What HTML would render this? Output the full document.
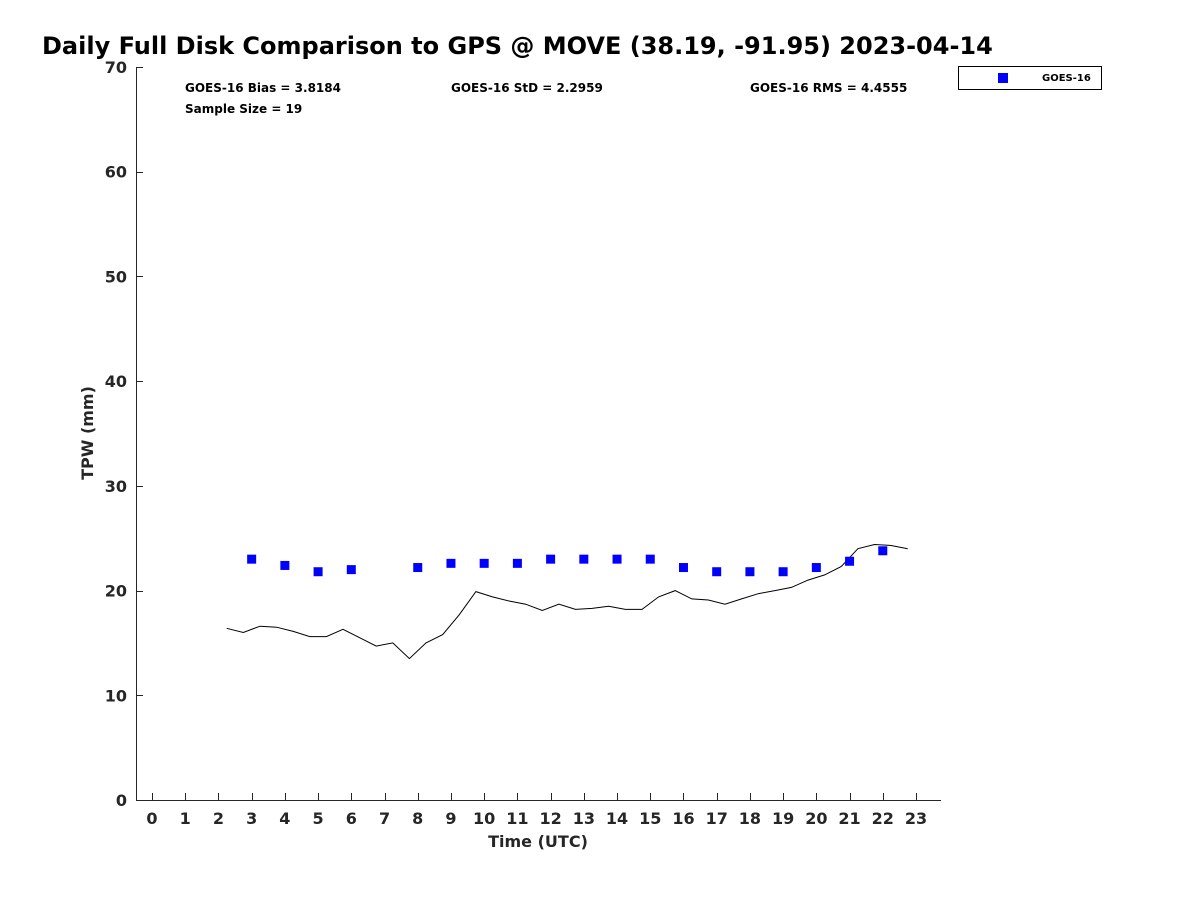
<!DOCTYPE html>
<html><head><meta charset="utf-8"><style>
body{margin:0;background:#fff;}
svg text{font-family:"DejaVu Sans","Liberation Sans",sans-serif;font-weight:bold;fill:#262626;}
</style></head><body>
<svg id="chart" width="1200" height="900" xmlns="http://www.w3.org/2000/svg">
<rect width="1200" height="900" fill="#fff"/>
<text x="42" y="54" font-size="24" style="fill:#000">Daily Full Disk Comparison to GPS @ MOVE (38.19, -91.95) 2023-04-14</text>
<g id="axes"></g>
<g id="marks"></g>
<text x="185" y="92" font-size="12" style="fill:#000">GOES-16 Bias = 3.8184</text>
<text x="185" y="113" font-size="12" style="fill:#000">Sample Size = 19</text>
<text x="451" y="92" font-size="12" style="fill:#000">GOES-16 StD = 2.2959</text>
<text x="750" y="92" font-size="12" style="fill:#000">GOES-16 RMS = 4.4555</text>
<g>
<rect x="958.5" y="66.5" width="143" height="23" fill="#fff" stroke="#000" stroke-width="1"/>
<rect x="998" y="73" width="10" height="10" fill="#0000ff"/>
<text x="1042" y="81" font-size="10" style="fill:#000">GOES-16</text>
</g>
<text x="538" y="847" font-size="16" text-anchor="middle">Time (UTC)</text>
<text transform="translate(93,433) rotate(-90)" font-size="16" text-anchor="middle">TPW (mm)</text>
</svg>
<script>
const xTicks=[0,1,2,3,4,5,6,7,8,9,10,11,12,13,14,15,16,17,18,19,20,21,22,23];
const yTicks=[0,10,20,30,40,50,60,70];
const gpsTimes=[2.25,2.75,3.25,3.75,4.25,4.75,5.25,5.75,6.25,6.75,7.25,7.75,8.25,8.75,9.25,9.75,10.25,10.75,11.25,11.75,12.25,12.75,13.25,13.75,14.25,14.75,15.25,15.75,16.25,16.75,17.25,17.75,18.25,18.75,19.25,19.75,20.25,20.75,21.25,21.75,22.25,22.75];
const gpsValues=[16.4,16.0,16.6,16.5,16.1,15.6,15.6,16.3,15.5,14.7,15.0,13.5,15.0,15.8,17.7,19.9,19.4,19.0,18.7,18.1,18.7,18.2,18.3,18.5,18.2,18.2,19.4,20.0,19.2,19.1,18.7,19.2,19.7,20.0,20.3,21.0,21.5,22.3,24.0,24.4,24.3,24.0];
const goesTimes=[3,4,5,6,8,9,10,11,12,13,14,15,16,17,18,19,20,21,22];
const goesValues=[23.0,22.4,21.8,22.0,22.2,22.6,22.6,22.6,23.0,23.0,23.0,23.0,22.2,21.8,21.8,21.8,22.2,22.8,23.8];
const NS='http://www.w3.org/2000/svg';
function X(t){return 152+t*(916-152)/23;}
function Y(v){return 800-v*(800-67)/70;}
const axes=document.getElementById('axes'),marks=document.getElementById('marks');
function mk(tag,attrs,parent){const e=document.createElementNS(NS,tag);for(const k in attrs)e.setAttribute(k,attrs[k]);parent.appendChild(e);return e;}
let l=mk('line',{x1:136,y1:800.5,x2:941,y2:800.5,stroke:'#262626','stroke-width':1},axes);


l=mk('line',{x1:136.5,y1:67,x2:136.5,y2:800,stroke:'#262626','stroke-width':1},axes);


xTicks.forEach(t=>{
  const x=Math.round(X(t))+0.5;
  const tk=mk('line',{x1:x,y1:800,x2:x,y2:793,stroke:'#262626'},axes);
  
  
  const tx=mk('text',{x:X(t),y:824,'font-size':16,'text-anchor':'middle'},axes);
  tx.textContent=t;
  
  
});
yTicks.forEach(v=>{
  const y=Math.round(Y(v))+0.5;
  const tk=mk('line',{x1:136,y1:y,x2:143,y2:y,stroke:'#262626'},axes);
  
  
  const tx=mk('text',{x:127,y:Y(v)+6,'font-size':16,'text-anchor':'end'},axes);
  tx.textContent=v;
  
  
});
const pts=gpsTimes.map((t,i)=>X(t).toFixed(1)+','+Y(gpsValues[i]).toFixed(1)).join(' ');
const pl=mk('polyline',{points:pts,fill:'none',stroke:'#000','stroke-width':1},marks);


goesTimes.forEach((t,i)=>{
  const r=mk('rect',{x:X(t)-4.5,y:Y(goesValues[i])-4.5,width:9,height:9,fill:'#0000ff'},marks);
  
  
});
</script>
</body></html>
